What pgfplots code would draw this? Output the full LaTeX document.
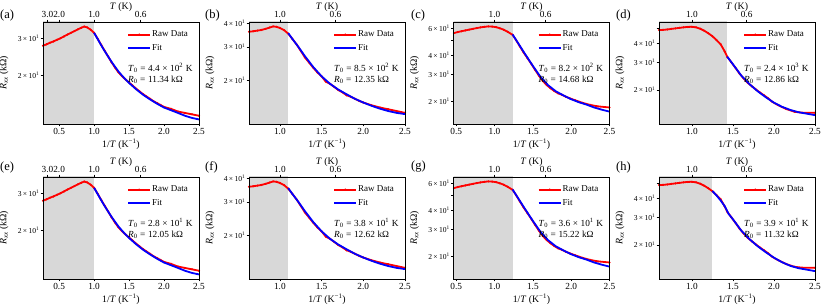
\documentclass[border=0pt]{standalone}
\usepackage{fontspec}
\setmainfont{Liberation Serif}
\usepackage{pgfplots}
\pgfplotsset{compat=1.18}
\usepackage{pgfplotstable}
\definecolor{shadecol}{RGB}{216,216,216}
\definecolor{rawred}{RGB}{255,0,0}
\definecolor{fitblue}{RGB}{0,0,255}

\pgfplotstableread{
x y
0.27 27.6
0.32 28.0
0.37 28.5
0.42 28.9
0.47 29.4
0.52 29.9
0.57 30.5
0.62 31.1
0.67 31.7
0.72 32.3
0.77 32.9
0.82 33.5
0.86 33.9
0.90 33.6
0.95 32.8
1.00 31.7
1.05 29.8
1.10 27.9
1.15 26.2
1.20 24.6
1.25 23.1
1.30 21.8
1.35 20.7
1.40 19.9
1.45 19.2
1.50 18.6
1.55 18.0
1.60 17.4
1.65 16.9
1.70 16.4
1.75 16.0
1.80 15.6
1.85 15.2
1.90 14.9
1.95 14.6
2.00 14.3
2.10 14.0
2.20 13.6
2.30 13.4
2.40 13.2
2.50 13.0
}\rawA
\pgfplotstableread{
x y
1.00 31.7
1.05 29.7
1.10 27.8
1.15 26.1
1.20 24.6
1.25 23.2
1.30 22.0
1.35 20.9
1.40 20.0
1.45 19.2
1.50 18.5
1.60 17.3
1.70 16.3
1.80 15.5
1.90 14.8
2.00 14.2
2.10 13.8
2.20 13.4
2.30 13.0
2.40 12.7
2.50 12.5
}\fitA
\pgfplotstableread{
x y
0.63 36.0
0.68 36.2
0.73 36.5
0.78 36.8
0.83 37.3
0.88 37.9
0.92 38.4
0.96 38.2
1.00 37.7
1.05 36.7
1.10 35.2
1.15 33.0
1.20 30.9
1.25 28.6
1.30 26.4
1.35 24.8
1.40 23.3
1.45 22.0
1.50 21.0
1.55 19.7
1.60 19.2
1.65 18.5
1.70 17.8
1.75 17.3
1.80 16.7
1.85 16.4
1.90 16.0
1.95 15.6
2.00 15.3
2.10 14.8
2.20 14.4
2.30 14.1
2.40 13.8
2.50 13.5
}\rawB
\pgfplotstableread{
x y
1.10 35.4
1.15 33.0
1.20 30.9
1.25 28.8
1.30 26.8
1.40 23.5
1.50 21.0
1.60 19.2
1.70 17.9
1.80 16.9
1.90 16.0
2.00 15.3
2.10 14.7
2.20 14.2
2.30 13.8
2.40 13.5
2.50 13.3
}\fitB
\pgfplotstableread{
x y
0.47 55.6
0.52 56.5
0.57 57.2
0.62 57.9
0.67 58.6
0.72 59.3
0.77 60.0
0.82 60.6
0.87 61.1
0.92 61.5
0.97 61.3
1.02 60.8
1.07 59.8
1.12 58.5
1.17 56.8
1.235 54.2
1.28 50.2
1.33 45.6
1.38 41.5
1.43 38.2
1.48 35.0
1.53 32.0
1.58 29.3
1.63 27.1
1.68 25.5
1.73 24.3
1.78 23.3
1.83 22.5
1.88 22.0
1.93 21.4
1.98 20.9
2.05 20.3
2.15 19.5
2.25 18.9
2.35 18.5
2.50 18.2
}\rawC
\pgfplotstableread{
x y
1.235 54.5
1.30 48.5
1.40 40.5
1.50 34.0
1.60 28.8
1.70 25.4
1.80 23.2
1.90 21.8
2.00 20.6
2.10 19.7
2.20 19.0
2.30 18.2
2.40 17.6
2.50 17.1
}\fitC
\pgfplotstableread{
x y
0.60 48.8
0.65 48.9
0.70 49.2
0.75 49.6
0.80 50.0
0.85 50.4
0.90 50.8
0.95 51.1
1.00 51.2
1.05 50.8
1.10 49.8
1.15 48.3
1.20 46.5
1.25 44.5
1.30 42.0
1.35 39.5
1.40 35.5
1.43 32.8
1.48 30.2
1.53 27.8
1.58 25.5
1.63 23.7
1.68 22.2
1.73 21.1
1.78 20.1
1.83 19.2
1.88 18.4
1.93 17.6
1.98 16.7
2.05 15.9
2.15 15.0
2.25 14.4
2.35 14.2
2.50 14.2
}\rawD
\pgfplotstableread{
x y
1.43 32.8
1.50 29.3
1.60 24.8
1.70 21.8
1.80 19.6
1.90 17.9
2.00 16.5
2.10 15.5
2.20 14.8
2.30 14.3
2.40 14.0
2.50 13.7
}\fitD
\pgfplotstableread{
x y
1.25 44.6
1.30 41.8
1.35 38.8
1.40 35.6
1.45 31.6
1.50 29.3
1.60 24.8
1.70 21.8
1.80 19.6
1.90 17.9
2.00 16.5
2.10 15.4
2.20 14.6
2.30 14.1
2.40 13.8
2.50 13.5
}\fitH

\newcommand{\tlab}[1]{#1\,×\,10\textsuperscript{1}}
\pgfplotsset{
  rpanel/.style={
    scale only axis, width=156pt, height=102pt, anchor=south west,
    axis on top, clip mode=individual,
    xmax=2.5,
    xtick={0.5,1,1.5,2,2.5},
    xticklabels={0.5,1.0,1.5,2.0,2.5},
    xtick pos=left, ytick pos=left,
    tick align=outside, major tick length=2.5pt,
    yminorticks=false, xminorticks=false,
    axis line style={line width=0.6pt},
    tick style={black, line width=0.5pt},
    xticklabel style={font=\fontsize{9.3}{9.3}\selectfont, inner sep=1.5pt},
    yticklabel style={font=\fontsize{7.6}{7.6}\selectfont, inner sep=1pt},
    label style={font=\fontsize{9.8}{10}\selectfont},
    xlabel={1/\textit{T} (K\textsuperscript{−1})},
    ylabel={\textit{R}\textsubscript{\textit{xx}} (kΩ)},
    xlabel style={at={(axis description cs:0.5,-0.2)}, anchor=center},
    ylabel style={at={(axis description cs:-0.25,0.5)}, anchor=center},
    legend style={at={(0.535,0.93)}, anchor=north west, draw=none, fill=none,
      font=\fontsize{9}{9}\selectfont, row sep=4pt, inner sep=0.5pt,
      nodes={inner sep=1pt}},
    legend cell align=left,
    legend image code/.code={%
      \draw[mark repeat=2,mark phase=2,line width=2pt] plot coordinates {(0pt,0pt) (11pt,0pt) (22pt,0pt)};},
    extra x tick style={xtick pos=right, xticklabel pos=right, tick align=outside,
      major tick length=2.5pt},
  },
  ryA/.style={ymin=11.9, ymax=35.6, ytick={20,30}, yticklabels={\tlab{2},\tlab{3}}},
  ryB/.style={ymin=11.8, ymax=40.5, ytick={20,30,40}, yticklabels={\tlab{2},\tlab{3},\tlab{4}}},
  ryC/.style={ymin=14.2, ymax=65.7, ytick={20,30,40,50,60}, yticklabels={\tlab{2},\tlab{3},\tlab{4},{},\tlab{6}}},
  ryD/.style={ymin=12.0, ymax=55.0, ytick={20,30,40,50}, yticklabels={\tlab{2},\tlab{3},\tlab{4},{}}},
  rtopA/.style={extra x ticks={0.3333,0.5,1,1.6667}, extra x tick labels={3.0,2.0,1.0,0.6}},
  rtopB/.style={extra x ticks={1,1.6667}, extra x tick labels={1.0,0.6}},
}
\tikzset{
  shadest/.style={draw=none, fill=shadecol},
  annst/.style={anchor=west, inner sep=0pt, font=\fontsize{9.3}{9.3}\selectfont},
  plabst/.style={anchor=west, inner sep=0pt, font=\fontsize{12.5}{13}\selectfont},
  toplab/.style={font=\fontsize{9.8}{10}\selectfont, inner sep=0pt},
}
\newcommand{\annot}[2]{%
  \node[annst] at (rel axis cs:0.545,0.55) {\textit{T}\textsubscript{0}\;=\;#1\;K};
  \node[annst] at (rel axis cs:0.545,0.43) {\textit{R}\textsubscript{0}\;=\;#2\;kΩ};
  \node[toplab] at (rel axis cs:0.5,1.15) {\textit{T} (K)};
}
\newcommand{\rawplot}[1]{\addplot[color=rawred, line width=1.8pt, mark=*, mark size=0.7pt, mark options={solid, fill=rawred, line width=0.6pt}] table {#1};}
\newcommand{\fitplot}[1]{\addplot[color=fitblue, line width=1.8pt, no markers] table {#1};}

\begin{document}
\begin{tikzpicture}
\useasboundingbox (0,0) rectangle (822pt,306pt);
% ---------------- row 1 ----------------
\begin{axis}[rpanel, ymode=log, ryA, rtopA, at={(43pt,182pt)}, xmin=0.27]
\addplot[shadest, forget plot] coordinates {(0,5) (1.0,5) (1.0,100) (0,100)} -- cycle;
\rawplot{\rawA}
\fitplot{\fitA}
\legend{Raw Data, Fit}
\annot{4.4\;×\;10\textsuperscript{2}}{11.34}
\end{axis}
\node[plabst] at (0pt,291pt) {(a)};

\begin{axis}[rpanel, ymode=log, ryB, rtopB, at={(249pt,182pt)}, xmin=0.63]
\addplot[shadest, forget plot] coordinates {(0,5) (1.1,5) (1.1,100) (0,100)} -- cycle;
\rawplot{\rawB}
\fitplot{\fitB}
\legend{Raw Data, Fit}
\annot{8.5\;×\;10\textsuperscript{2}}{12.35}
\end{axis}
\node[plabst] at (205pt,291pt) {(b)};

\begin{axis}[rpanel, ymode=log, ryC, rtopB, at={(453.5pt,182pt)}, xmin=0.465]
\addplot[shadest, forget plot] coordinates {(0,5) (1.235,5) (1.235,100) (0,100)} -- cycle;
\rawplot{\rawC}
\fitplot{\fitC}
\legend{Raw Data, Fit}
\annot{8.2\;×\;10\textsuperscript{2}}{14.68}
\end{axis}
\node[plabst] at (411pt,291pt) {(c)};

\begin{axis}[rpanel, ymode=log, ryD, rtopB, at={(659pt,182pt)}, xmin=0.6]
\addplot[shadest, forget plot] coordinates {(0,5) (1.43,5) (1.43,100) (0,100)} -- cycle;
\rawplot{\rawD}
\fitplot{\fitD}
\legend{Raw Data, Fit}
\annot{2.4\;×\;10\textsuperscript{3}}{12.86}
\end{axis}
\node[plabst] at (616pt,291pt) {(d)};

% ---------------- row 2 ----------------
\begin{axis}[rpanel, ymode=log, ryA, rtopA, at={(43pt,27pt)}, xmin=0.27]
\addplot[shadest, forget plot] coordinates {(0,5) (1.0,5) (1.0,100) (0,100)} -- cycle;
\rawplot{\rawA}
\fitplot{\fitA}
\legend{Raw Data, Fit}
\annot{2.8\;×\;10\textsuperscript{1}}{12.05}
\end{axis}
\node[plabst] at (0pt,139pt) {(e)};

\begin{axis}[rpanel, ymode=log, ryB, rtopB, at={(249pt,27pt)}, xmin=0.63]
\addplot[shadest, forget plot] coordinates {(0,5) (1.1,5) (1.1,100) (0,100)} -- cycle;
\rawplot{\rawB}
\fitplot{\fitB}
\legend{Raw Data, Fit}
\annot{3.8\;×\;10\textsuperscript{1}}{12.62}
\end{axis}
\node[plabst] at (205pt,139pt) {(f)};

\begin{axis}[rpanel, ymode=log, ryC, rtopB, at={(453.5pt,27pt)}, xmin=0.465]
\addplot[shadest, forget plot] coordinates {(0,5) (1.235,5) (1.235,100) (0,100)} -- cycle;
\rawplot{\rawC}
\fitplot{\fitC}
\legend{Raw Data, Fit}
\annot{3.6\;×\;10\textsuperscript{1}}{15.22}
\end{axis}
\node[plabst] at (411pt,139pt) {(g)};

\begin{axis}[rpanel, ymode=log, ryD, rtopB, at={(659pt,27pt)}, xmin=0.6]
\addplot[shadest, forget plot] coordinates {(0,5) (1.25,5) (1.25,100) (0,100)} -- cycle;
\rawplot{\rawD}
\fitplot{\fitH}
\legend{Raw Data, Fit}
\annot{3.9\;×\;10\textsuperscript{1}}{11.32}
\end{axis}
\node[plabst] at (616pt,139pt) {(h)};
\end{tikzpicture}
\end{document}
